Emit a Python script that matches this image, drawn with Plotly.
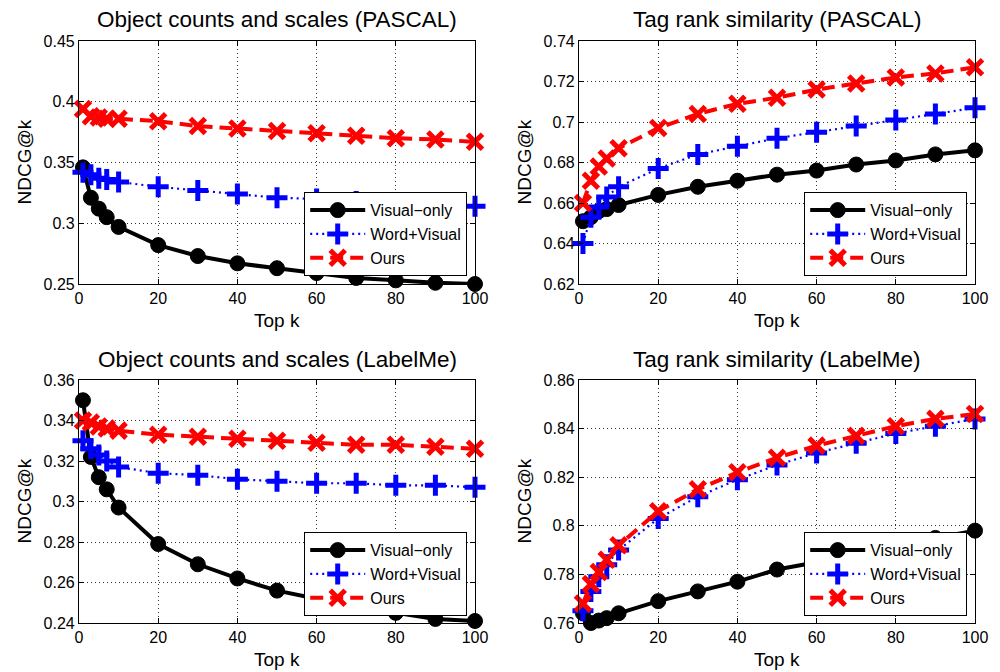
import plotly.graph_objects as go

# ---------------- data ----------------
top_k = [1, 3, 5, 7, 10, 20, 30, 40, 50, 60, 70, 80, 90, 100]

series_names = ["Visual\u2212only", "Word+Visual", "Ours"]

pascal_obj_visual = [0.346, 0.321, 0.312, 0.305, 0.297, 0.282, 0.273, 0.267, 0.263, 0.259, 0.255, 0.253, 0.251, 0.250]
pascal_obj_wordvis = [0.342, 0.340, 0.337, 0.336, 0.334, 0.330, 0.327, 0.324, 0.321, 0.320, 0.318, 0.316, 0.315, 0.314]
pascal_obj_ours = [0.394, 0.388, 0.387, 0.386, 0.386, 0.384, 0.380, 0.378, 0.376, 0.374, 0.372, 0.370, 0.369, 0.367]

pascal_tag_visual = [0.651, 0.653, 0.656, 0.657, 0.659, 0.664, 0.668, 0.671, 0.674, 0.676, 0.679, 0.681, 0.684, 0.686]
pascal_tag_wordvis = [0.640, 0.653, 0.658, 0.663, 0.668, 0.677, 0.684, 0.688, 0.692, 0.695, 0.698, 0.701, 0.704, 0.707]
pascal_tag_ours = [0.660, 0.671, 0.678, 0.682, 0.687, 0.697, 0.704, 0.709, 0.712, 0.716, 0.719, 0.722, 0.724, 0.727]

labelme_obj_visual = [0.350, 0.322, 0.312, 0.306, 0.297, 0.279, 0.269, 0.262, 0.256, 0.252, 0.249, 0.245, 0.242, 0.241]
labelme_obj_wordvis = [0.330, 0.326, 0.323, 0.320, 0.317, 0.314, 0.313, 0.311, 0.310, 0.309, 0.309, 0.308, 0.308, 0.307]
labelme_obj_ours = [0.340, 0.339, 0.337, 0.336, 0.335, 0.333, 0.332, 0.331, 0.330, 0.329, 0.328, 0.328, 0.327, 0.326]

labelme_tag_visual = [0.764, 0.760, 0.761, 0.762, 0.764, 0.769, 0.773, 0.777, 0.782, 0.785, 0.789, 0.793, 0.795, 0.798]
labelme_tag_wordvis = [0.765, 0.773, 0.779, 0.784, 0.790, 0.803, 0.812, 0.819, 0.825, 0.830, 0.834, 0.838, 0.841, 0.844]
labelme_tag_ours = [0.768, 0.776, 0.781, 0.786, 0.792, 0.806, 0.815, 0.822, 0.828, 0.833, 0.837, 0.841, 0.844, 0.846]

panel_titles = [
    "Object counts and scales (PASCAL)",
    "Tag rank similarity (PASCAL)",
    "Object counts and scales (LabelMe)",
    "Tag rank similarity (LabelMe)",
]

x_tick_vals = [0, 20, 40, 60, 80, 100]
x_tick_text = ["0", "20", "40", "60", "80", "100"]

y_ticks_1 = [0.25, 0.3, 0.35, 0.4, 0.45]
y_ticklabels_1 = ["0.25", "0.3", "0.35", "0.4", "0.45"]
y_ticks_2 = [0.62, 0.64, 0.66, 0.68, 0.7, 0.72, 0.74]
y_ticklabels_2 = ["0.62", "0.64", "0.66", "0.68", "0.7", "0.72", "0.74"]
y_ticks_3 = [0.24, 0.26, 0.28, 0.3, 0.32, 0.34, 0.36]
y_ticklabels_3 = ["0.24", "0.26", "0.28", "0.3", "0.32", "0.34", "0.36"]
y_ticks_4 = [0.76, 0.78, 0.8, 0.82, 0.84, 0.86]
y_ticklabels_4 = ["0.76", "0.78", "0.8", "0.82", "0.84", "0.86"]

x_label = "Top k"
y_label = "NDCG@k"

# ---------------- layout geometry ----------------
W, H = 1000, 672
FONT = "Liberation Sans, Arial, Helvetica, sans-serif"

# pixel boxes of plot areas: (left, right, top, bottom)
boxes = [
    (79, 475, 41, 284),
    (579, 975, 41, 284),
    (79, 475, 380, 623),
    (579, 975, 380, 623),
]
title_y_px = [19, 19, 359, 359]
xlabel_y_px = [320, 320, 659, 659]
ylabel_x_px = [24, 524, 24, 524]
legend_pos_px = [(467, 276), (967, 276), (467, 616), (967, 616)]

panels = [
    (pascal_obj_visual, pascal_obj_wordvis, pascal_obj_ours, y_ticks_1, y_ticklabels_1),
    (pascal_tag_visual, pascal_tag_wordvis, pascal_tag_ours, y_ticks_2, y_ticklabels_2),
    (labelme_obj_visual, labelme_obj_wordvis, labelme_obj_ours, y_ticks_3, y_ticklabels_3),
    (labelme_tag_visual, labelme_tag_wordvis, labelme_tag_ours, y_ticks_4, y_ticklabels_4),
]

styles = [
    dict(line=dict(color="black", width=4, dash="solid"),
         marker=dict(symbol="circle", size=15, color="black", line=dict(color="black", width=1))),
    dict(line=dict(color="blue", width=2.2, dash="2px,4px"),
         marker=dict(symbol="cross-thin", size=15, color="blue", line=dict(color="blue", width=5))),
    dict(line=dict(color="red", width=4, dash="13px,7px"),
         marker=dict(symbol="x-thin", size=15, color="red", line=dict(color="red", width=5))),
]

fig = go.Figure()
annotations = []
layout_axes = {}

for i, (vis, wv, ours, yt, ytl) in enumerate(panels):
    n = i + 1
    xa = "x" if n == 1 else f"x{n}"
    ya = "y" if n == 1 else f"y{n}"
    lg = "legend" if n == 1 else f"legend{n}"
    for j, vals in enumerate([vis, wv, ours]):
        fig.add_trace(go.Scatter(
            x=top_k, y=vals, mode="lines+markers", name=series_names[j],
            xaxis=xa, yaxis=ya, legend=lg, cliponaxis=False,
            **styles[j]))

    l, r, t, b = boxes[i]
    axis_common = dict(
        showline=True, linecolor="black", linewidth=1.2, mirror="ticks",
        ticks="inside", ticklen=5, tickcolor="black", tickwidth=1,
        showgrid=True, gridcolor="#333333", gridwidth=1, griddash="1px,3px",
        zeroline=False, automargin=False,
        tickfont=dict(family=FONT, size=16, color="black"),
    )
    layout_axes["xaxis" if n == 1 else f"xaxis{n}"] = dict(
        domain=[l / W, r / W], range=[0, 100], anchor=ya,
        tickvals=x_tick_vals, ticktext=x_tick_text, **axis_common)
    layout_axes["yaxis" if n == 1 else f"yaxis{n}"] = dict(
        domain=[1 - b / H, 1 - t / H], range=[yt[0], yt[-1]], anchor=xa,
        tickvals=yt, ticktext=ytl, **axis_common)

    annotations.append(dict(
        text=panel_titles[i], xref="paper", yref="paper",
        x=(l + r) / 2 / W, y=1 - title_y_px[i] / H, xanchor="center", yanchor="middle",
        showarrow=False, font=dict(family=FONT, size=22.5, color="black")))
    annotations.append(dict(
        text=x_label, xref="paper", yref="paper",
        x=(l + r) / 2 / W, y=1 - xlabel_y_px[i] / H, xanchor="center", yanchor="middle",
        showarrow=False, font=dict(family=FONT, size=19, color="black")))
    annotations.append(dict(
        text=y_label, xref="paper", yref="paper", textangle=-90,
        x=ylabel_x_px[i] / W, y=1 - (t + b) / 2 / H, xanchor="center", yanchor="middle",
        showarrow=False, font=dict(family=FONT, size=19, color="black")))

    lx, ly = legend_pos_px[i]
    layout_axes[lg] = dict(
        x=lx / W, y=1 - ly / H, xanchor="right", yanchor="bottom",
        xref="paper", yref="paper",
        bgcolor="white", bordercolor="black", borderwidth=1.2,
        font=dict(family=FONT, size=16, color="black"),
        itemwidth=55, tracegroupgap=0)

fig.update_layout(
    width=W, height=H,
    margin=dict(l=0, r=0, t=0, b=0, autoexpand=False),
    paper_bgcolor="white", plot_bgcolor="white",
    showlegend=True,
    annotations=annotations,
    **layout_axes,
)

fig.write_html(
    "out.html",
    config={"displayModeBar": False},
    post_script="document.body.style.margin='0px';"
                "document.documentElement.style.overflow='hidden';"
                "document.body.style.overflow='hidden';",
)
